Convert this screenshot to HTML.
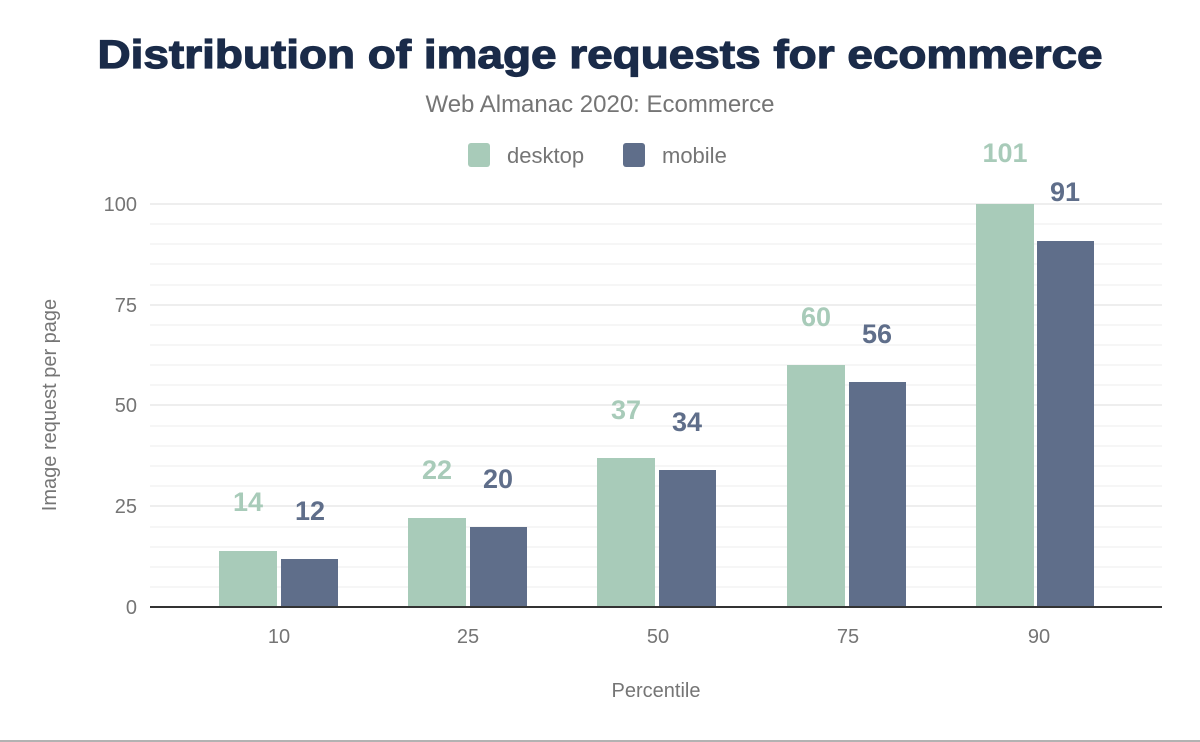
<!DOCTYPE html>
<html><head><meta charset="utf-8"><style>body{margin:0;background:#fff}svg{display:block}</style></head><body>
<svg width="1200" height="742" xmlns="http://www.w3.org/2000/svg" font-family="Liberation Sans, Arial, sans-serif">
<rect width="1200" height="742" fill="#fff"/>
<text x="600" y="68" text-anchor="middle" font-size="40" font-weight="bold" fill="#1a2b49" stroke="#1a2b49" stroke-width="1.2" textLength="1005" lengthAdjust="spacingAndGlyphs">Distribution of image requests for ecommerce</text>
<text x="600" y="112" text-anchor="middle" font-size="24" fill="#757575">Web Almanac 2020: Ecommerce</text>
<rect x="468" y="143" width="22" height="24" rx="3" fill="#a8cbb9"/>
<text x="507" y="163" font-size="22" fill="#757575">desktop</text>
<rect x="623" y="143" width="22" height="24" rx="3" fill="#5f6e8a"/>
<text x="662" y="163" font-size="22" fill="#757575">mobile</text>
<g stroke="#f3f3f3" stroke-width="1.5">
<line x1="150" x2="1162" y1="587" y2="587"/><line x1="150" x2="1162" y1="567" y2="567"/><line x1="150" x2="1162" y1="547" y2="547"/><line x1="150" x2="1162" y1="527" y2="527"/>
<line x1="150" x2="1162" y1="486" y2="486"/><line x1="150" x2="1162" y1="466" y2="466"/><line x1="150" x2="1162" y1="446" y2="446"/><line x1="150" x2="1162" y1="426" y2="426"/>
<line x1="150" x2="1162" y1="385" y2="385"/><line x1="150" x2="1162" y1="365" y2="365"/><line x1="150" x2="1162" y1="345" y2="345"/><line x1="150" x2="1162" y1="325" y2="325"/>
<line x1="150" x2="1162" y1="285" y2="285"/><line x1="150" x2="1162" y1="264" y2="264"/><line x1="150" x2="1162" y1="244" y2="244"/><line x1="150" x2="1162" y1="224" y2="224"/>
</g>
<g stroke="#e8e8e8" stroke-width="1.5">
<line x1="150" x2="1162" y1="506" y2="506"/><line x1="150" x2="1162" y1="405" y2="405"/><line x1="150" x2="1162" y1="305" y2="305"/><line x1="150" x2="1162" y1="204" y2="204"/>
</g>
<g font-size="20" fill="#757575" text-anchor="end">
<text x="137" y="614">0</text><text x="137" y="513">25</text><text x="137" y="412">50</text><text x="137" y="312">75</text><text x="137" y="211">100</text>
</g>
<g fill="#a8cbb9">
<rect x="219" y="551" width="58" height="56"/><rect x="408" y="518" width="58" height="89"/><rect x="597" y="458" width="58" height="149"/><rect x="787" y="365" width="58" height="242"/><rect x="976" y="204" width="58" height="403"/>
</g>
<g fill="#5f6e8a">
<rect x="281" y="559" width="57" height="48"/><rect x="470" y="527" width="57" height="80"/><rect x="659" y="470" width="57" height="137"/><rect x="849" y="382" width="57" height="225"/><rect x="1037" y="241" width="57" height="366"/>
</g>
<line x1="150" x2="1162" y1="607" y2="607" stroke="#333" stroke-width="2"/>
<g font-size="27" font-weight="bold" text-anchor="middle">
<g fill="#a8cbb9">
<text x="248" y="511">14</text><text x="437" y="479">22</text><text x="626" y="419">37</text><text x="816" y="326">60</text><text x="1005" y="162">101</text>
</g>
<g fill="#5f6e8a">
<text x="310" y="520">12</text><text x="498" y="488">20</text><text x="687" y="431">34</text><text x="877" y="343">56</text><text x="1065" y="201">91</text>
</g>
</g>
<g font-size="20" fill="#757575" text-anchor="middle">
<text x="279" y="643">10</text><text x="468" y="643">25</text><text x="658" y="643">50</text><text x="848" y="643">75</text><text x="1039" y="643">90</text>
<text x="656" y="697">Percentile</text>
<text transform="translate(56,405) rotate(-90)">Image request per page</text>
</g>
<line x1="0" x2="1200" y1="741" y2="741" stroke="#999" stroke-width="1.5"/>
</svg>
</body></html>
